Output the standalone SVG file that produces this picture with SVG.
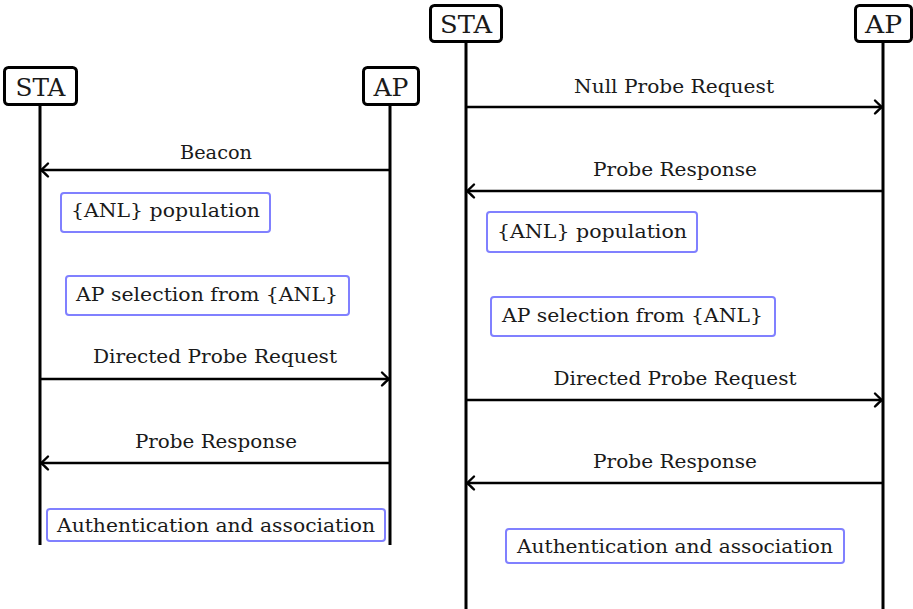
<svg xmlns="http://www.w3.org/2000/svg" width="913" height="609" viewBox="0 0 913 609">
  <style>
    .bg { fill: #ffffff; }
    .head rect { fill: #ffffff; stroke: #000000; stroke-width: 3; }
    .head text { font-family: 'DejaVu Serif', 'Liberation Serif', serif; font-size: 24px; fill: #1a1a1a; text-anchor: middle; }
    .life { stroke: #000000; stroke-width: 3; fill: none; }
    .msg line { stroke: #000000; stroke-width: 2.6; fill: none; }
    .lbl { font-family: 'DejaVu Serif', 'Liberation Serif', serif; font-size: 18px; fill: #1a1a1a; text-anchor: middle; }
    .note rect { fill: #ffffff; stroke: #8080ff; stroke-width: 2; }
    .note text { font-family: 'DejaVu Serif', 'Liberation Serif', serif; font-size: 18px; fill: #1a1a1a; text-anchor: middle; }
  </style>
  <defs>
    <marker id="tip" markerUnits="userSpaceOnUse" viewBox="-10 -8 12 16" refX="0" refY="0" markerWidth="12" markerHeight="16" orient="auto" overflow="visible">
      <path d="M -7 -6.5 Q -2 -1.5 0 0 Q -2 1.5 -7 6.5" fill="none" stroke="#000000" stroke-width="2.4" stroke-linecap="round" stroke-linejoin="round"/>
    </marker>
  </defs>
  <rect class="bg" x="0" y="0" width="913" height="609"/>

  <!-- lifelines -->
  <g id="lifelines">
    <line class="life" x1="40" y1="105" x2="40" y2="545"/>
    <line class="life" x1="390" y1="105" x2="390" y2="545"/>
    <line class="life" x1="466" y1="42" x2="466" y2="609"/>
    <line class="life" x1="883" y1="42" x2="883" y2="609"/>
  </g>

  <!-- participants, left sequence -->
  <g id="sta1" class="head">
    <rect x="4.5" y="67.5" width="72" height="37" rx="4"/>
    <text x="40.5" y="96" textLength="50" lengthAdjust="spacingAndGlyphs">STA</text>
  </g>
  <g id="ap1" class="head">
    <rect x="363.5" y="67.5" width="55" height="37" rx="4"/>
    <text x="391" y="96" textLength="35" lengthAdjust="spacingAndGlyphs">AP</text>
  </g>

  <!-- participants, right sequence -->
  <g id="sta2" class="head">
    <rect x="430.5" y="5.5" width="71" height="36" rx="4"/>
    <text x="466" y="33" textLength="52" lengthAdjust="spacingAndGlyphs">STA</text>
  </g>
  <g id="ap2" class="head">
    <rect x="855.5" y="5.5" width="56" height="36" rx="4"/>
    <text x="883.5" y="33" textLength="37" lengthAdjust="spacingAndGlyphs">AP</text>
  </g>

  <!-- messages -->
  <g id="connectors" class="msg">
    <line x1="390" y1="170" x2="41" y2="170" marker-end="url(#tip)"/>
    <line x1="40" y1="379" x2="389" y2="379" marker-end="url(#tip)"/>
    <line x1="390" y1="463" x2="41" y2="463" marker-end="url(#tip)"/>

    <line x1="466" y1="107" x2="882" y2="107" marker-end="url(#tip)"/>
    <line x1="883" y1="191" x2="467" y2="191" marker-end="url(#tip)"/>
    <line x1="466" y1="400" x2="882" y2="400" marker-end="url(#tip)"/>
    <line x1="883" y1="483" x2="467" y2="483" marker-end="url(#tip)"/>
  </g>

  <!-- message labels -->
  <g id="labels">
    <text class="lbl" x="216" y="159" textLength="72" lengthAdjust="spacingAndGlyphs">Beacon</text>
    <text class="lbl" x="215" y="363" textLength="244" lengthAdjust="spacingAndGlyphs">Directed Probe Request</text>
    <text class="lbl" x="216" y="448" textLength="162" lengthAdjust="spacingAndGlyphs">Probe Response</text>

    <text class="lbl" x="674" y="93" textLength="200" lengthAdjust="spacingAndGlyphs">Null Probe Request</text>
    <text class="lbl" x="675" y="176" textLength="164" lengthAdjust="spacingAndGlyphs">Probe Response</text>
    <text class="lbl" x="675" y="385" textLength="243" lengthAdjust="spacingAndGlyphs">Directed Probe Request</text>
    <text class="lbl" x="675" y="468" textLength="164" lengthAdjust="spacingAndGlyphs">Probe Response</text>
  </g>

  <!-- local actions, left sequence -->
  <g id="anl1" class="note">
    <rect x="61" y="193" width="209" height="39" rx="3"/>
    <text x="165.5" y="217" textLength="189" lengthAdjust="spacingAndGlyphs">{ANL} population</text>
  </g>
  <g id="sel1" class="note">
    <rect x="66" y="276" width="283" height="39" rx="3"/>
    <text x="207" y="301" textLength="262" lengthAdjust="spacingAndGlyphs">AP selection from {ANL}</text>
  </g>
  <g id="auth1" class="note">
    <rect x="47" y="509" width="338" height="32" rx="3"/>
    <text x="216" y="532" textLength="318" lengthAdjust="spacingAndGlyphs">Authentication and association</text>
  </g>

  <!-- local actions, right sequence -->
  <g id="anl2" class="note">
    <rect x="487" y="212" width="210" height="40" rx="3"/>
    <text x="592" y="238" textLength="190" lengthAdjust="spacingAndGlyphs">{ANL} population</text>
  </g>
  <g id="sel2" class="note">
    <rect x="491" y="297" width="284" height="39" rx="3"/>
    <text x="632.5" y="322" textLength="261" lengthAdjust="spacingAndGlyphs">AP selection from {ANL}</text>
  </g>
  <g id="auth2" class="note">
    <rect x="506" y="529" width="338" height="34" rx="3"/>
    <text x="675" y="553" textLength="316" lengthAdjust="spacingAndGlyphs">Authentication and association</text>
  </g>
</svg>
